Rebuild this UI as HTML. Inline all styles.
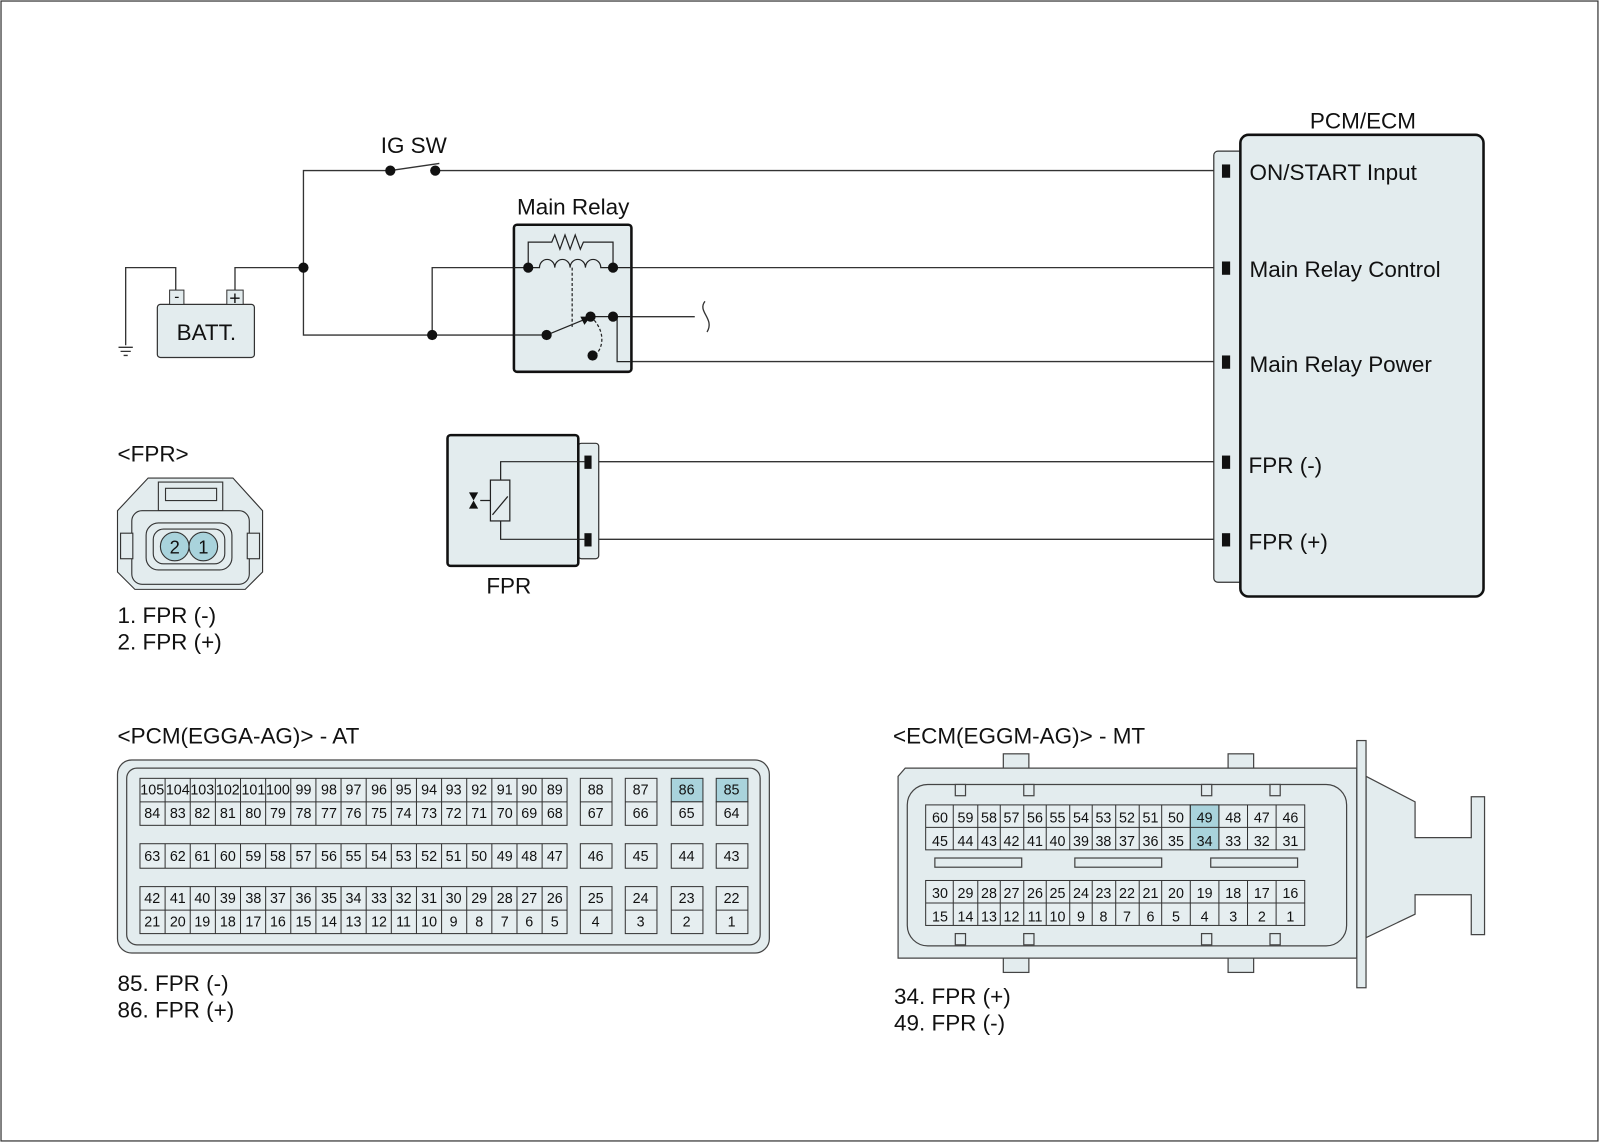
<!DOCTYPE html>
<html><head><meta charset="utf-8"><style>
html,body{margin:0;padding:0;background:#fff;}
svg{display:block;}
text{font-family:"Liberation Sans",Arial,sans-serif;fill:#111;}
.c text{font-size:14px;text-anchor:middle;}
.c rect{fill:#e6eef0;stroke:#333;stroke-width:1;}
</style></head><body>
<svg width="1600" height="1143" viewBox="0 0 1566 1119" preserveAspectRatio="none" xmlns="http://www.w3.org/2000/svg">
<rect x="1" y="1" width="1563" height="1116" fill="#fff" stroke="#333" stroke-width="1.2"/>
<g fill="none" stroke="#333" stroke-width="1.3">
<path d="M382 167 H297 V328 H535"/>
<path d="M426 167 H1196"/>
<path d="M382 167 L430 160"/>
<path d="M230 284 V262 H297"/>
<path d="M172 284 V262 H123 V338"/>
<path d="M116 340 H130 M118 344 H128 M121 348 H125"/>
<path d="M423 328 V262 H517"/>
<path d="M600 262 H1196"/>
<path d="M604 310 H680"/>
<path d="M604 310 V354 H1196"/>
<path d="M690 295 C682 305,700 312,692 325"/>
<path d="M586 452 H1196 M586 528 H1196"/>
</g>
<rect x="154" y="298" width="95" height="52" rx="3" fill="#e3ecee" stroke="#333" stroke-width="1.2"/>
<rect x="166" y="284" width="14" height="14" fill="#e3ecee" stroke="#333"/>
<rect x="222" y="284" width="16" height="14" fill="#e3ecee" stroke="#333"/>
<text x="173" y="295" font-size="15" text-anchor="middle">-</text>
<text x="230" y="298" font-size="19" text-anchor="middle">+</text>
<text x="202" y="333" font-size="22" text-anchor="middle">BATT.</text>
<text x="405" y="150" font-size="22" text-anchor="middle">IG SW</text>
<text x="561" y="210" font-size="22" text-anchor="middle">Main Relay</text>
<rect x="503" y="220" width="115" height="144" rx="3" fill="#e3ecee" stroke="#111" stroke-width="2.5"/>
<g fill="none" stroke="#222" stroke-width="1.2">
<path d="M503 262 H517 M503 328 H535 M604 310 H618 M604 310 V354 H618 M600 262 H618"/>
<path d="M517 262 V237 H540 L543 230 L548 244 L553 230 L558 244 L563 230 L568 244 L571 237 H600 V262"/>
<path d="M517 262 H528 A7.5 8 0 0 1 543 262 A7.5 8 0 0 1 558 262 A7.5 8 0 0 1 573 262 A7.5 8 0 0 1 588 262 H600"/>
<path d="M560 262 V320" stroke-dasharray="3,2"/>
<path d="M578 310 C592 322,592 340,582 348" stroke-dasharray="3,2"/>
<path d="M535 328 L574 312"/>
<path d="M578 310 H604"/>
</g>
<path d="M578 310 L568 310 L572 318 Z" fill="#111"/>
<g fill="#111">
<circle cx="297" cy="262" r="5"/><circle cx="423" cy="328" r="5"/>
<circle cx="382" cy="167" r="5"/><circle cx="426" cy="167" r="5"/>
<circle cx="517" cy="262" r="5"/><circle cx="600" cy="262" r="5"/>
<circle cx="535" cy="328" r="5"/><circle cx="578" cy="310" r="5"/>
<circle cx="600" cy="310" r="5"/><circle cx="580" cy="348" r="5"/>
</g>
<text x="1334" y="126" font-size="22" text-anchor="middle">PCM/ECM</text>
<path d="M1214 148 H1192 a4 4 0 0 0 -4 4 V566 a4 4 0 0 0 4 4 H1214" fill="#e3ecee" stroke="#333" stroke-width="1.2"/>
<rect x="1214" y="132" width="238" height="452" rx="8" fill="#e3ecee" stroke="#111" stroke-width="2.5"/>
<g fill="#111">
<rect x="1196" y="161" width="8" height="13"/><rect x="1196" y="256" width="8" height="13"/>
<rect x="1196" y="348" width="8" height="13"/><rect x="1196" y="446" width="8" height="13"/>
<rect x="1196" y="522" width="8" height="13"/>
</g>
<g font-size="22">
<text x="1223" y="176">ON/START Input</text>
<text x="1223" y="271">Main Relay Control</text>
<text x="1223" y="364">Main Relay Power</text>
<text x="1222" y="463">FPR (-)</text>
<text x="1222" y="538">FPR (+)</text>
</g>
<rect x="566" y="434" width="20" height="113" rx="3" fill="#e3ecee" stroke="#333" stroke-width="1.2"/>
<rect x="438" y="426" width="128" height="128" rx="3" fill="#e3ecee" stroke="#111" stroke-width="2.5"/>
<rect x="572" y="446" width="7" height="13" fill="#111"/><rect x="572" y="522" width="7" height="13" fill="#111"/>
<g fill="none" stroke="#222" stroke-width="1.2">
<path d="M572 452 H490 V470 M490 510 V528 H572"/>
<rect x="480" y="470" width="19" height="40" fill="#e3ecee"/>
<path d="M482 504 L497 486 M470 490 H480"/>
</g>
<path d="M459 482 H468 L459 498 H468 Z" fill="#111"/>
<text x="498" y="581" font-size="22" text-anchor="middle">FPR</text>
<text x="115" y="452" font-size="22">&lt;FPR&gt;</text>
<g fill="#e3ecee" stroke="#333" stroke-width="1.1">
<path d="M145 468 H228 L257 500 V560 L240 577 H132 L115 560 V500 Z"/>
<path d="M155 472 H218 V500 H155 Z"/>
<path d="M162 478 H212 V490 H162 Z"/>
<rect x="129" y="500" width="115" height="72" rx="10"/>
<rect x="143" y="512" width="84" height="46" rx="12"/>
<rect x="150" y="518" width="70" height="34" rx="10"/>
<rect x="118" y="522" width="12" height="25"/><rect x="242" y="522" width="12" height="25"/>
<circle cx="171" cy="535" r="14" fill="#a9d3dc"/><circle cx="199" cy="535" r="14" fill="#a9d3dc"/>
</g>
<text x="171" y="542" font-size="18" text-anchor="middle">2</text>
<text x="199" y="542" font-size="18" text-anchor="middle">1</text>
<text x="115" y="610" font-size="22">1. FPR (-)</text>
<text x="115" y="636" font-size="22">2. FPR (+)</text>
<text x="115" y="728" font-size="22">&lt;PCM(EGGA-AG)&gt; - AT</text>
<rect x="115" y="744" width="638" height="189" rx="14" fill="#e3ecee" stroke="#444" stroke-width="1.2"/>
<rect x="124" y="752" width="620" height="173" rx="10" fill="none" stroke="#444" stroke-width="1.2"/>
<g class="c">
<rect x="137" y="762" width="418" height="46"/><rect x="137" y="826" width="418" height="24"/><rect x="137" y="868" width="418" height="46"/>
<path d="M137 785 H555 M137 891 H555" stroke="#333"/>
<path d="M161.6 762V808M186.2 762V808M210.8 762V808M235.4 762V808M260 762V808M284.6 762V808M309.2 762V808M333.8 762V808M358.4 762V808M383 762V808M407.6 762V808M432.2 762V808M456.8 762V808M481.4 762V808M506 762V808M530.6 762V808 M161.6 826V850M186.2 826V850M210.8 826V850M235.4 826V850M260 826V850M284.6 826V850M309.2 826V850M333.8 826V850M358.4 826V850M383 826V850M407.6 826V850M432.2 826V850M456.8 826V850M481.4 826V850M506 826V850M530.6 826V850 M161.6 868V914M186.2 868V914M210.8 868V914M235.4 868V914M260 868V914M284.6 868V914M309.2 868V914M333.8 868V914M358.4 868V914M383 868V914M407.6 868V914M432.2 868V914M456.8 868V914M481.4 868V914M506 868V914M530.6 868V914" stroke="#333"/>
<rect x="568" y="762" width="31" height="46"/><rect x="612" y="762" width="31" height="46"/><rect x="657" y="762" width="31" height="23" style="fill:#a9d3dc"/><rect x="657" y="785" width="31" height="23"/><rect x="701" y="762" width="31" height="23" style="fill:#a9d3dc"/><rect x="701" y="785" width="31" height="23"/>
<rect x="568" y="826" width="31" height="24"/><rect x="612" y="826" width="31" height="24"/><rect x="657" y="826" width="31" height="24"/><rect x="701" y="826" width="31" height="24"/>
<rect x="568" y="868" width="31" height="46"/><rect x="612" y="868" width="31" height="46"/><rect x="657" y="868" width="31" height="46"/><rect x="701" y="868" width="31" height="46"/>
<path d="M568 785H599M612 785H643M568 891H599M612 891H643M657 891H688M701 891H732" stroke="#333"/>
<g font-size="12.5">
<text x="149" y="778">105</text><text x="174" y="778">104</text><text x="198" y="778">103</text><text x="223" y="778">102</text><text x="248" y="778">101</text><text x="272" y="778">100</text>
</g>
<text x="297" y="778">99</text><text x="322" y="778">98</text><text x="346" y="778">97</text><text x="371" y="778">96</text><text x="395" y="778">95</text><text x="420" y="778">94</text><text x="444" y="778">93</text><text x="469" y="778">92</text><text x="494" y="778">91</text><text x="518" y="778">90</text><text x="543" y="778">89</text>
<text x="149" y="801">84</text><text x="174" y="801">83</text><text x="198" y="801">82</text><text x="223" y="801">81</text><text x="248" y="801">80</text><text x="272" y="801">79</text><text x="297" y="801">78</text><text x="322" y="801">77</text><text x="346" y="801">76</text><text x="371" y="801">75</text><text x="395" y="801">74</text><text x="420" y="801">73</text><text x="444" y="801">72</text><text x="469" y="801">71</text><text x="494" y="801">70</text><text x="518" y="801">69</text><text x="543" y="801">68</text>
<text x="149" y="843">63</text><text x="174" y="843">62</text><text x="198" y="843">61</text><text x="223" y="843">60</text><text x="248" y="843">59</text><text x="272" y="843">58</text><text x="297" y="843">57</text><text x="322" y="843">56</text><text x="346" y="843">55</text><text x="371" y="843">54</text><text x="395" y="843">53</text><text x="420" y="843">52</text><text x="444" y="843">51</text><text x="469" y="843">50</text><text x="494" y="843">49</text><text x="518" y="843">48</text><text x="543" y="843">47</text>
<text x="149" y="884">42</text><text x="174" y="884">41</text><text x="198" y="884">40</text><text x="223" y="884">39</text><text x="248" y="884">38</text><text x="272" y="884">37</text><text x="297" y="884">36</text><text x="322" y="884">35</text><text x="346" y="884">34</text><text x="371" y="884">33</text><text x="395" y="884">32</text><text x="420" y="884">31</text><text x="444" y="884">30</text><text x="469" y="884">29</text><text x="494" y="884">28</text><text x="518" y="884">27</text><text x="543" y="884">26</text>
<text x="149" y="907">21</text><text x="174" y="907">20</text><text x="198" y="907">19</text><text x="223" y="907">18</text><text x="248" y="907">17</text><text x="272" y="907">16</text><text x="297" y="907">15</text><text x="322" y="907">14</text><text x="346" y="907">13</text><text x="371" y="907">12</text><text x="395" y="907">11</text><text x="420" y="907">10</text><text x="444" y="907">9</text><text x="469" y="907">8</text><text x="494" y="907">7</text><text x="518" y="907">6</text><text x="543" y="907">5</text>
<text x="583" y="778">88</text><text x="627" y="778">87</text><text x="672" y="778">86</text><text x="716" y="778">85</text>
<text x="583" y="801">67</text><text x="627" y="801">66</text><text x="672" y="801">65</text><text x="716" y="801">64</text>
<text x="583" y="843">46</text><text x="627" y="843">45</text><text x="672" y="843">44</text><text x="716" y="843">43</text>
<text x="583" y="884">25</text><text x="627" y="884">24</text><text x="672" y="884">23</text><text x="716" y="884">22</text>
<text x="583" y="907">4</text><text x="627" y="907">3</text><text x="672" y="907">2</text><text x="716" y="907">1</text>
</g>
<text x="115" y="970" font-size="22">85. FPR (-)</text>
<text x="115" y="996" font-size="22">86. FPR (+)</text>
<text x="874" y="728" font-size="22">&lt;ECM(EGGM-AG)&gt; - MT</text>
<g fill="#e3ecee" stroke="#444" stroke-width="1.2">
<rect x="982" y="738" width="25" height="16"/><rect x="1202" y="738" width="25" height="16"/>
<rect x="982" y="936" width="25" height="16"/><rect x="1202" y="936" width="25" height="16"/>
<path d="M1337 760 L1385 785 V820 H1440 V780 H1453 V915 H1440 V876 H1385 V895 L1337 918 Z"/>
<path d="M886 752 H1328 V938 H879 V760 Z"/>
<rect x="1328" y="725" width="9" height="242"/>
<rect x="888" y="768" width="430" height="158" rx="20"/>
<rect x="935" y="768" width="10" height="11"/><rect x="1002" y="768" width="10" height="11"/><rect x="1176" y="768" width="10" height="11"/><rect x="1243" y="768" width="10" height="11"/>
<rect x="935" y="914" width="10" height="11"/><rect x="1002" y="914" width="10" height="11"/><rect x="1176" y="914" width="10" height="11"/><rect x="1243" y="914" width="10" height="11"/>
<rect x="915" y="840" width="85" height="9"/><rect x="1052" y="840" width="85" height="9"/><rect x="1185" y="840" width="85" height="9"/>
</g>
<g class="c">
<rect x="906" y="788" width="371" height="44"/><rect x="906" y="862" width="371" height="44"/>
<rect x="1165" y="788" width="28" height="44" style="fill:#a9d3dc"/>
<path d="M906 810H1277M906 884H1277 M933 788V832M957 788V832M979 788V832M1002 788V832M1024 788V832M1047 788V832M1069 788V832M1092 788V832M1115 788V832M1137 788V832M1165 788V832M1193 788V832M1221 788V832M1249 788V832 M933 862V906M957 862V906M979 862V906M1002 862V906M1024 862V906M1047 862V906M1069 862V906M1092 862V906M1115 862V906M1137 862V906M1165 862V906M1193 862V906M1221 862V906M1249 862V906" stroke="#333"/>
<g font-size="16">
<text x="920" y="805">60</text><text x="945" y="805">59</text><text x="968" y="805">58</text><text x="990" y="805">57</text><text x="1013" y="805">56</text><text x="1035" y="805">55</text><text x="1058" y="805">54</text><text x="1080" y="805">53</text><text x="1103" y="805">52</text><text x="1126" y="805">51</text><text x="1151" y="805">50</text><text x="1179" y="805">49</text><text x="1207" y="805">48</text><text x="1235" y="805">47</text><text x="1263" y="805">46</text>
<text x="920" y="828">45</text><text x="945" y="828">44</text><text x="968" y="828">43</text><text x="990" y="828">42</text><text x="1013" y="828">41</text><text x="1035" y="828">40</text><text x="1058" y="828">39</text><text x="1080" y="828">38</text><text x="1103" y="828">37</text><text x="1126" y="828">36</text><text x="1151" y="828">35</text><text x="1179" y="828">34</text><text x="1207" y="828">33</text><text x="1235" y="828">32</text><text x="1263" y="828">31</text>
<text x="920" y="879">30</text><text x="945" y="879">29</text><text x="968" y="879">28</text><text x="990" y="879">27</text><text x="1013" y="879">26</text><text x="1035" y="879">25</text><text x="1058" y="879">24</text><text x="1080" y="879">23</text><text x="1103" y="879">22</text><text x="1126" y="879">21</text><text x="1151" y="879">20</text><text x="1179" y="879">19</text><text x="1207" y="879">18</text><text x="1235" y="879">17</text><text x="1263" y="879">16</text>
<text x="920" y="902">15</text><text x="945" y="902">14</text><text x="968" y="902">13</text><text x="990" y="902">12</text><text x="1013" y="902">11</text><text x="1035" y="902">10</text><text x="1058" y="902">9</text><text x="1080" y="902">8</text><text x="1103" y="902">7</text><text x="1126" y="902">6</text><text x="1151" y="902">5</text><text x="1179" y="902">4</text><text x="1207" y="902">3</text><text x="1235" y="902">2</text><text x="1263" y="902">1</text>
</g>
</g>
<text x="875" y="983" font-size="22">34. FPR (+)</text>
<text x="875" y="1009" font-size="22">49. FPR (-)</text>
</svg>
</body></html>
